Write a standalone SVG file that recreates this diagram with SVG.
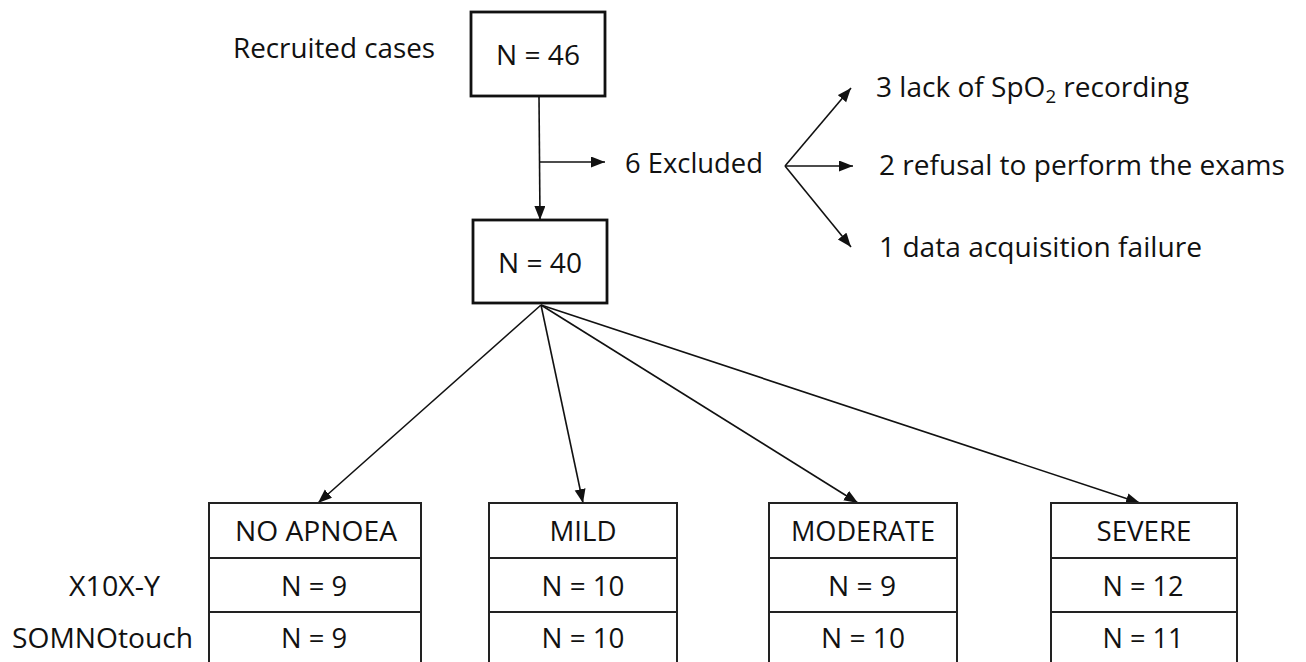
<svg xmlns="http://www.w3.org/2000/svg" width="1306" height="662" viewBox="0 0 1306 662">
<style>
text{font-family:"Open Sans","Liberation Sans",sans-serif;font-size:27px;fill:#111;}
.c{text-anchor:middle;}
.big{font-size:28px;}
.box{fill:#fff;stroke:#111;stroke-width:2.8;}
.tbl{fill:none;stroke:#222;stroke-width:2;}
.ln{fill:none;stroke:#111;stroke-width:1.6;marker-end:url(#ah);}
</style>
<defs>
<marker id="ah" markerUnits="userSpaceOnUse" markerWidth="15" markerHeight="12" refX="14" refY="5.5" orient="auto">
<path d="M0,0 L14,5.5 L0,11 z" fill="#111"/>
</marker>
</defs>
<rect width="1306" height="662" fill="#fff"/>
<text x="233" y="58" textLength="202" lengthAdjust="spacingAndGlyphs">Recruited cases</text>
<g id="connectors">
<line class="ln" x1="539" y1="97" x2="540" y2="220"/>
<line class="ln" x1="540" y1="162" x2="605" y2="162"/>
<line class="ln" x1="785" y1="166" x2="851" y2="88"/>
<line class="ln" x1="785" y1="166" x2="853" y2="166"/>
<line class="ln" x1="785" y1="166" x2="851" y2="247"/>
<line class="ln" x1="541" y1="305" x2="318" y2="503"/>
<line class="ln" x1="541" y1="305" x2="583" y2="503"/>
<line class="ln" x1="541" y1="305" x2="858" y2="503"/>
<line class="ln" x1="541" y1="305" x2="1140" y2="503"/>
</g>
<g id="n46">
<rect class="box" x="471" y="12" width="134" height="84"/>
<text class="c big" x="538" y="65" textLength="84" lengthAdjust="spacingAndGlyphs">N = 46</text>
</g>
<g id="excluded">
<text x="625" y="173" textLength="138" lengthAdjust="spacingAndGlyphs">6 Excluded</text>
</g>
<g id="n40">
<rect class="box" x="473" y="220" width="134" height="83"/>
<text class="c big" x="540" y="273" textLength="84" lengthAdjust="spacingAndGlyphs">N = 40</text>
</g>
<g id="reason1">
<text x="876" y="97" textLength="313" lengthAdjust="spacingAndGlyphs">3 lack of SpO<tspan font-size="18" dy="6">2</tspan><tspan dy="-6"> recording</tspan></text>
</g>
<g id="reason2">
<text x="879" y="175" textLength="406" lengthAdjust="spacingAndGlyphs">2 refusal to perform the exams</text>
</g>
<g id="reason3">
<text x="879" y="257" textLength="323" lengthAdjust="spacingAndGlyphs">1 data acquisition failure</text>
</g>
<g id="rowlabels">
<text x="69" y="596" textLength="91" lengthAdjust="spacingAndGlyphs">X10X-Y</text>
<text x="12" y="648" textLength="181" lengthAdjust="spacingAndGlyphs">SOMNOtouch</text>
</g>
<g id="noapnoea">
<path class="tbl" d="M209,670 V503 H421 V670 M209,558 H421 M209,612 H421"/>
<text class="c" x="316" y="541" textLength="162" lengthAdjust="spacingAndGlyphs">NO APNOEA</text>
<text class="c" x="314" y="596" textLength="66" lengthAdjust="spacingAndGlyphs">N = 9</text>
<text class="c" x="314" y="648" textLength="66" lengthAdjust="spacingAndGlyphs">N = 9</text>
</g>
<g id="mild">
<path class="tbl" d="M489,670 V503 H677 V670 M489,558 H677 M489,612 H677"/>
<text class="c" x="583" y="541" textLength="67" lengthAdjust="spacingAndGlyphs">MILD</text>
<text class="c" x="583" y="596" textLength="83" lengthAdjust="spacingAndGlyphs">N = 10</text>
<text class="c" x="583" y="648" textLength="83" lengthAdjust="spacingAndGlyphs">N = 10</text>
</g>
<g id="moderate">
<path class="tbl" d="M769,670 V503 H957 V670 M769,558 H957 M769,612 H957"/>
<text class="c" x="863" y="541" textLength="144" lengthAdjust="spacingAndGlyphs">MODERATE</text>
<text class="c" x="862" y="596" textLength="68" lengthAdjust="spacingAndGlyphs">N = 9</text>
<text class="c" x="863" y="648" textLength="84" lengthAdjust="spacingAndGlyphs">N = 10</text>
</g>
<g id="severe">
<path class="tbl" d="M1051,670 V503 H1237 V670 M1051,558 H1237 M1051,612 H1237"/>
<text class="c" x="1144" y="541" textLength="95" lengthAdjust="spacingAndGlyphs">SEVERE</text>
<text class="c" x="1143" y="596" textLength="81" lengthAdjust="spacingAndGlyphs">N = 12</text>
<text class="c" x="1143" y="648" textLength="81" lengthAdjust="spacingAndGlyphs">N = 11</text>
</g>
</svg>
